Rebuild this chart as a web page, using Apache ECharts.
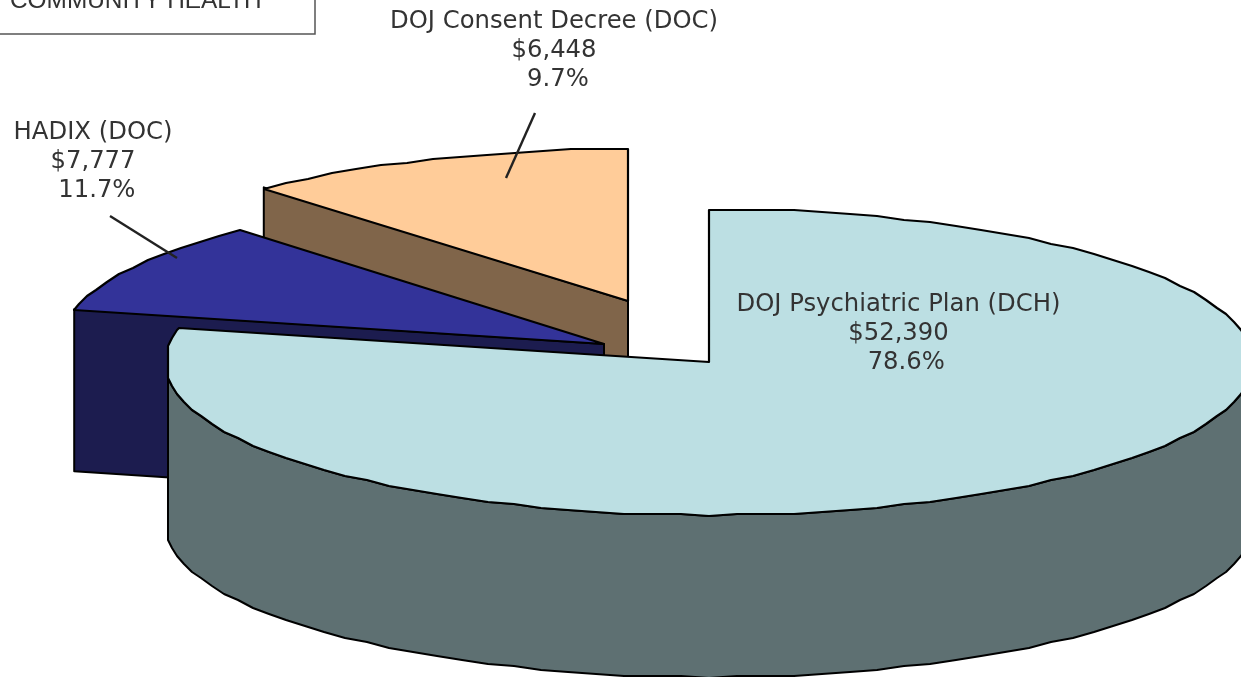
<!DOCTYPE html>
<html><head><meta charset="utf-8">
<style>html,body{margin:0;padding:0;background:#fff}#c{width:1241px;height:677px}</style>
<script src="https://cdn.jsdelivr.net/npm/echarts@6/dist/echarts.min.js"></script>
</head><body><div id="c"></div>
<script>
// Slices clockwise from 12 o'clock, as the picture sweeps them
const sliceNames = ['DOJ Psychiatric Plan (DCH)', 'HADIX (DOC)', 'DOJ Consent Decree (DOC)'];
const sliceValues = [52390, 6448, 7777];
const topColors = ['#BCDFE3', '#333399', '#FFCC99'];
const wallColors = ['#5E7072', '#1C1C4F', '#80654A'];
const tipX = [709, 604, 628];
const tipY = [362, 344, 301];
const drawOrder = [2, 1, 0];

// Labels as printed
const labelDollars = ['$52,390', '$7,777', '$6,448'];
const labelPercents = ['78.6%', '11.7%', '9.7%'];
const labelPads = ['  ', ' ', ' '];
const titleText = 'COMMUNITY HEALTH';

const RX = 544, RX_LIMIT = 541, RY = 153, DEPTH = 162, STEP = 3, FONT = '"DejaVu Sans", Verdana, sans-serif';
const total = sliceValues.reduce((a, b) => a + b, 0);

function rawPoint(i, deg) {
  const r = deg * Math.PI / 180;
  let dx = RX * Math.sin(r);
  dx = Math.max(-RX_LIMIT, Math.min(RX_LIMIT, dx));
  return [tipX[i] + dx, tipY[i] - RY * Math.cos(r)];
}
// the source outline is lightly stepped, so the ring is snapped to a small grid
function ringPoint(i, deg, drop) {
  const p = rawPoint(i, deg);
  return [Math.round(p[0]), Math.round(p[1] / 2) * 2 + (tipY[i] % 2) + drop];
}
// sample on a shared angle grid so walls and top outlines coincide
function arc(i, from, to, drop) {
  const lo = Math.min(from, to), hi = Math.max(from, to);
  const degs = [lo];
  for (let d = (Math.floor(lo / STEP) + 1) * STEP; d < hi; d += STEP) degs.push(d);
  degs.push(hi);
  if (from > to) degs.reverse();
  return degs.map(d => ringPoint(i, d, drop));
}
const startDeg = [];
sliceValues.reduce((acc, v, i) => { startDeg[i] = acc; return acc + v / total * 360; }, 0);
const stroke = w => ({ stroke: '#000', lineWidth: w, lineJoin: 'round' });

function renderItem(params, api) {
  const i = api.value(0);
  const a0 = startDeg[i], a1 = a0 + sliceValues[i] / total * 360;
  const tip = [tipX[i], tipY[i]];
  const kids = [];
  const poly = (points, fill, w) => kids.push({
    type: 'polygon', shape: { points }, style: Object.assign({ fill }, stroke(w))
  });
  // start-edge cut face
  if (i > 0) {
    const o = rawPoint(i, a0);
    poly([tip, o, [o[0], o[1] + DEPTH], [tip[0], tip[1] + DEPTH]], wallColors[i], 2);
  }
  // outer wall, front half only
  const f0 = Math.max(a0, 90), f1 = Math.min(a1, 270);
  if (f1 > f0) {
    poly(arc(i, f0, f1, 0).concat(arc(i, f1, f0, DEPTH)), wallColors[i], 2);
  }
  // top
  poly([tip].concat(arc(i, a0, a1, 0)), topColors[i], 2.2);
  return { type: 'group', children: kids };
}

const labelText = (name, i) => name + '\n' + labelDollars[i] + '\n' + labelPads[i] + labelPercents[i];
const text = (x, y, t) => ({
  type: 'text', x, y, z: 100,
  style: { text: t, fill: '#333', font: '24.3px ' + FONT, align: 'center', verticalAlign: 'top', lineHeight: 29 }
});
const leader = (x1, y1, x2, y2) => ({
  type: 'line', z: 99, shape: { x1, y1, x2, y2 }, style: { stroke: '#222', lineWidth: 2.4 }
});

const chart = echarts.init(document.getElementById('c'), null, { renderer: 'canvas' });
chart.setOption({
  animation: false,
  backgroundColor: '#fff',
  series: [{
    type: 'custom',
    coordinateSystem: 'none',
    silent: true,
    clip: false,
    encode: {},
    data: drawOrder.map(i => [i, sliceValues[i]]),
    renderItem
  }],
  graphic: [
    { type: 'rect', z: 90, shape: { x: -10, y: -10, width: 325, height: 44 },
      style: { fill: '#fff', stroke: '#555', lineWidth: 1.5 } },
    { type: 'text', z: 100, x: 10, y: -11,
      style: { text: titleText, fill: '#333', font: '24.4px "Liberation Sans", Arial, sans-serif' } },
    leader(535, 113, 506, 178),
    leader(110, 216, 177, 258),
    text(554, 7, labelText(sliceNames[2], 2)),
    text(93, 118, labelText(sliceNames[1], 1)),
    text(898.5, 290, labelText(sliceNames[0], 0))
  ]
});
</script></body></html>
